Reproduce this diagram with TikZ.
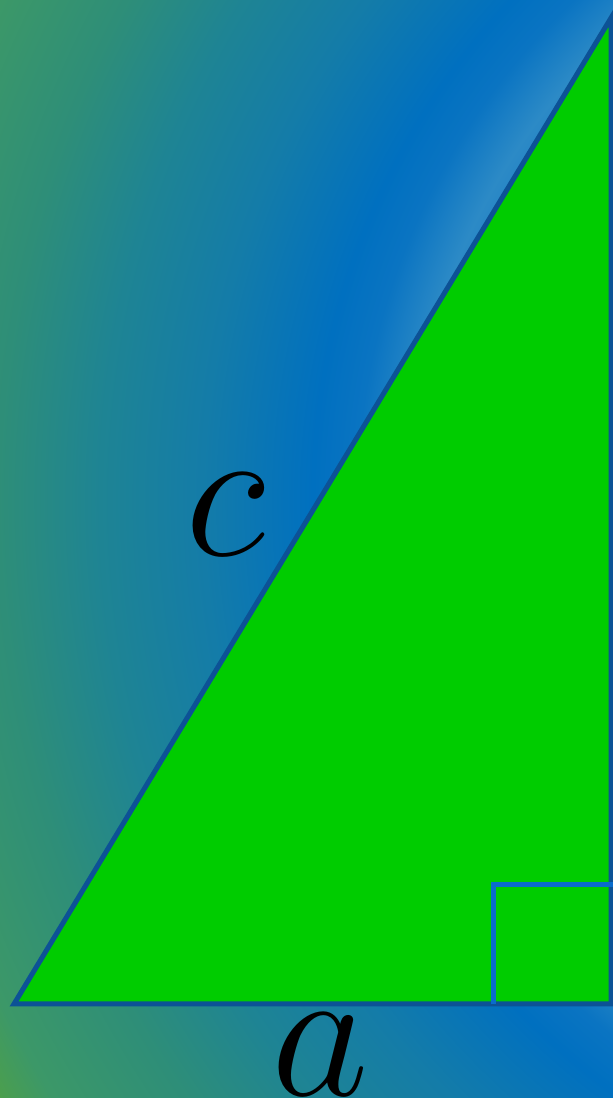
\documentclass[tikz,border=0pt]{standalone}
\usetikzlibrary{calc}
\definecolor{Leaf}{HTML}{00CC00}
\definecolor{Edge}{HTML}{0C5296}
\definecolor{Mark}{HTML}{0A6CCC}
\definecolor{SkyMid}{HTML}{1C7CC4}
\definecolor{SkyLight}{HTML}{2C8AC6}
\definecolor{DeepSoft}{HTML}{0A74C2}
\definecolor{Deep}{HTML}{0070C0}
\definecolor{TealA}{HTML}{147CA8}
\definecolor{TealB}{HTML}{1E8494}
\definecolor{TealC}{HTML}{2E8E78}
\definecolor{MossA}{HTML}{3C9868}
\definecolor{MossB}{HTML}{4EA048}
\pgfdeclareradialshading{backdrop}{\pgfpoint{0bp}{0bp}}{%
  color(0bp)=(SkyMid); color(12bp)=(SkyMid); color(13.1bp)=(SkyLight);
  color(14.2bp)=(DeepSoft); color(15.1bp)=(Deep); color(17.4bp)=(TealA);
  color(19.5bp)=(TealB); color(21.6bp)=(TealC); color(23.9bp)=(MossA);
  color(25bp)=(MossB); color(50bp)=(MossB)}
\tikzset{
  leg/.style={draw=Edge,fill=Leaf,line width=.05cm,line join=miter},
  rightmark/.style={draw=Mark,line width=.05cm},
  side/.style={inner sep=0pt,font=\Huge,scale=2.17}
}
\begin{document}
\begin{tikzpicture}
  \useasboundingbox (0,0) rectangle (6.13,10.98);
  % backdrop
  \begin{scope}
    \clip (0,0) rectangle (6.13,10.98);
    \shade[shading=backdrop] (10.44,5.97) circle (12.1);
  \end{scope}
  \coordinate (B) at (0.14,0.94);
  \coordinate (C) at (6.11,0.94);
  \coordinate (A) at (6.11,10.80);
  \draw[leg] (B) -- (C) -- (A) -- cycle;
  \draw[rightmark] ($(C)+(-1.18,0)$) |- ($(C)+(0.03,1.19)$);
  \node[side] (hyp) at (2.25,5.83) {$c$};
  \node[side] (base) at (3.20,0.43) {$a$};
\end{tikzpicture}
\end{document}
